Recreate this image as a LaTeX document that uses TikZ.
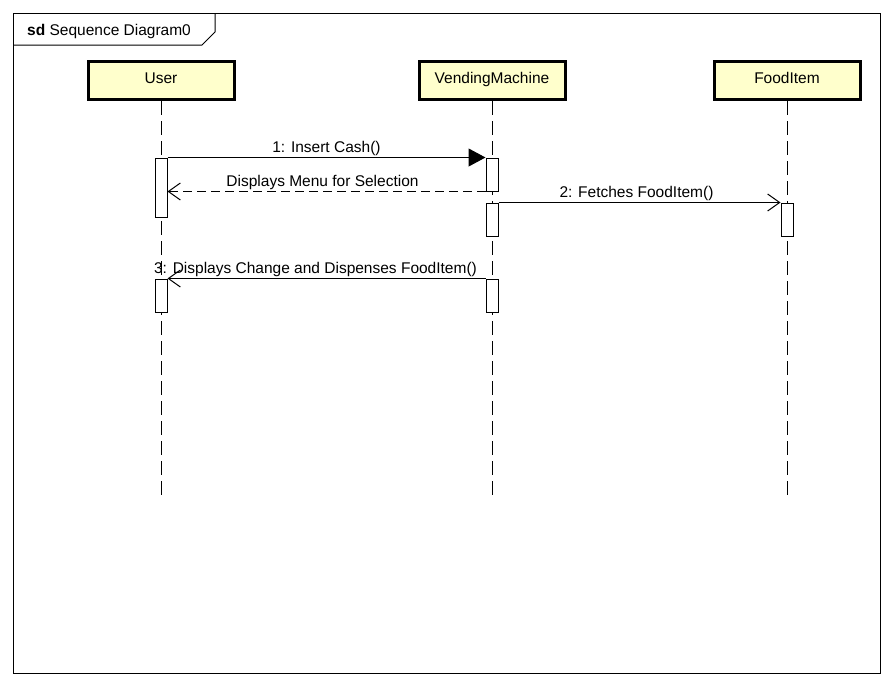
\documentclass[tikz,border=0pt]{standalone}
\usepackage{fontspec}
\setmainfont{Liberation Sans}
\usetikzlibrary{arrows.meta}
\definecolor{headfill}{RGB}{255,255,204}

\begin{document}
\begin{tikzpicture}[
  x=1pt, y=-1pt,
  every node/.style={font=\fontsize{15.5}{18}\selectfont},
  head/.style={draw, line width=3pt, fill=headfill, minimum width=146pt, minimum height=38pt, inner sep=0pt, text height=11pt, text depth=5pt},
  activation/.style={draw, line width=1pt, fill=white, minimum width=12pt, inner sep=0pt},
  lifeline/.style={line width=1pt, dash pattern=on 14pt off 6pt},
  call/.style={line width=1pt, -{Triangle[length=17pt, width=18pt]}},
  msg/.style={line width=1pt, -{Straight Barb[length=12pt, width=17pt, line width=1pt]}},
  reply/.style={msg, dash pattern=on 9pt off 5pt},
  msglabel/.style={above, inner sep=1.5pt}
]
  \useasboundingbox (0,0) rectangle (893,686);

  %% Frame
  \draw[line width=1pt] (13,13) rectangle (880,673);
  \draw[line width=1pt] (13,45) -- (202,45) -- (215,32) -- (215,13);
  \node[anchor=west, inner sep=0pt] (title) at (27,31) {\textbf{sd} Sequence Diagram0};

  %% Lifeline heads
  \node[head] (user) at (161,80.5) {User};
  \node[head] (vm) at (492,80.5) {VendingMachine};
  \node[head] (food) at (787,80.5) {FoodItem};

  \coordinate (userend) at (161,500);
  \coordinate (vmend) at (492,500);
  \coordinate (foodend) at (787,500);

  %% Lifelines
  \draw[lifeline] (user.south) -- (userend);
  \draw[lifeline] (vm.south) -- (vmend);
  \draw[lifeline] (food.south) -- (foodend);

  %% Activations
  \node[activation, minimum height=59pt] (useract1) at (161,187.5) {};
  \node[activation, minimum height=33pt] (useract2) at (161,295.5) {};
  \node[activation, minimum height=33pt] (vmact1) at (492,174.5) {};
  \node[activation, minimum height=33pt] (vmact2) at (492,219.5) {};
  \node[activation, minimum height=33pt] (vmact3) at (492,295.5) {};
  \node[activation, minimum height=33pt] (foodact) at (787,219.5) {};

  %% Messages
  \draw[call] (useract1.north east) -- node[msglabel] {1: Insert Cash()} (vmact1.north west);
  \draw[reply] (vmact1.south west) -- node[msglabel, xshift=-4pt] {Displays Menu for Selection} (useract1.east |- vmact1.south);
  \draw[msg] (vmact2.north east) -- node[msglabel, xshift=-3pt] {2: Fetches FoodItem()} (foodact.north west);
  \draw[msg] (vmact3.north west) -- node[msglabel, xshift=-11pt] {3: Displays Change and Dispenses FoodItem()} (useract2.north east);
\end{tikzpicture}
\end{document}
